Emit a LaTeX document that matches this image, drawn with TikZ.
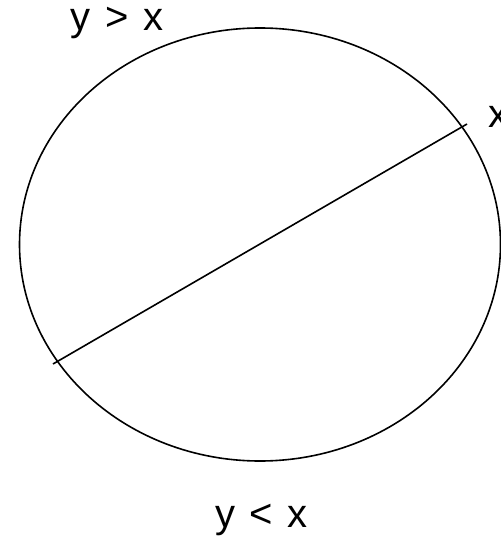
\documentclass[tikz,border=0pt]{standalone}
\usepackage{fontspec}
\setmainfont{Liberation Sans}[WordSpace=1.3]
\usetikzlibrary{shapes.geometric}
\begin{document}
\begin{tikzpicture}[x=1pt,y=-1pt,
  lbl/.style={inner sep=0pt, font=\fontsize{40}{40}\selectfont},
  oval/.style={draw, ellipse, line width=1.6pt, inner sep=0pt},
  diam/.style={line width=1.6pt}]
\useasboundingbox (0,0) rectangle (500,537);
\node[oval, minimum width=481pt, minimum height=433pt] (e) at (260,244.5) {};
\coordinate (p1) at (53,364);
\coordinate (p2) at (467,124);
\draw[diam] (p1) -- (p2);
\node[lbl, anchor=base] (gt) at (117,31) {y > x};
\node[lbl, anchor=base] (lt) at (261.5,527) {y < x};
\node[lbl, anchor=base west] (xr) at (488,128) {x};
\end{tikzpicture}
\end{document}
